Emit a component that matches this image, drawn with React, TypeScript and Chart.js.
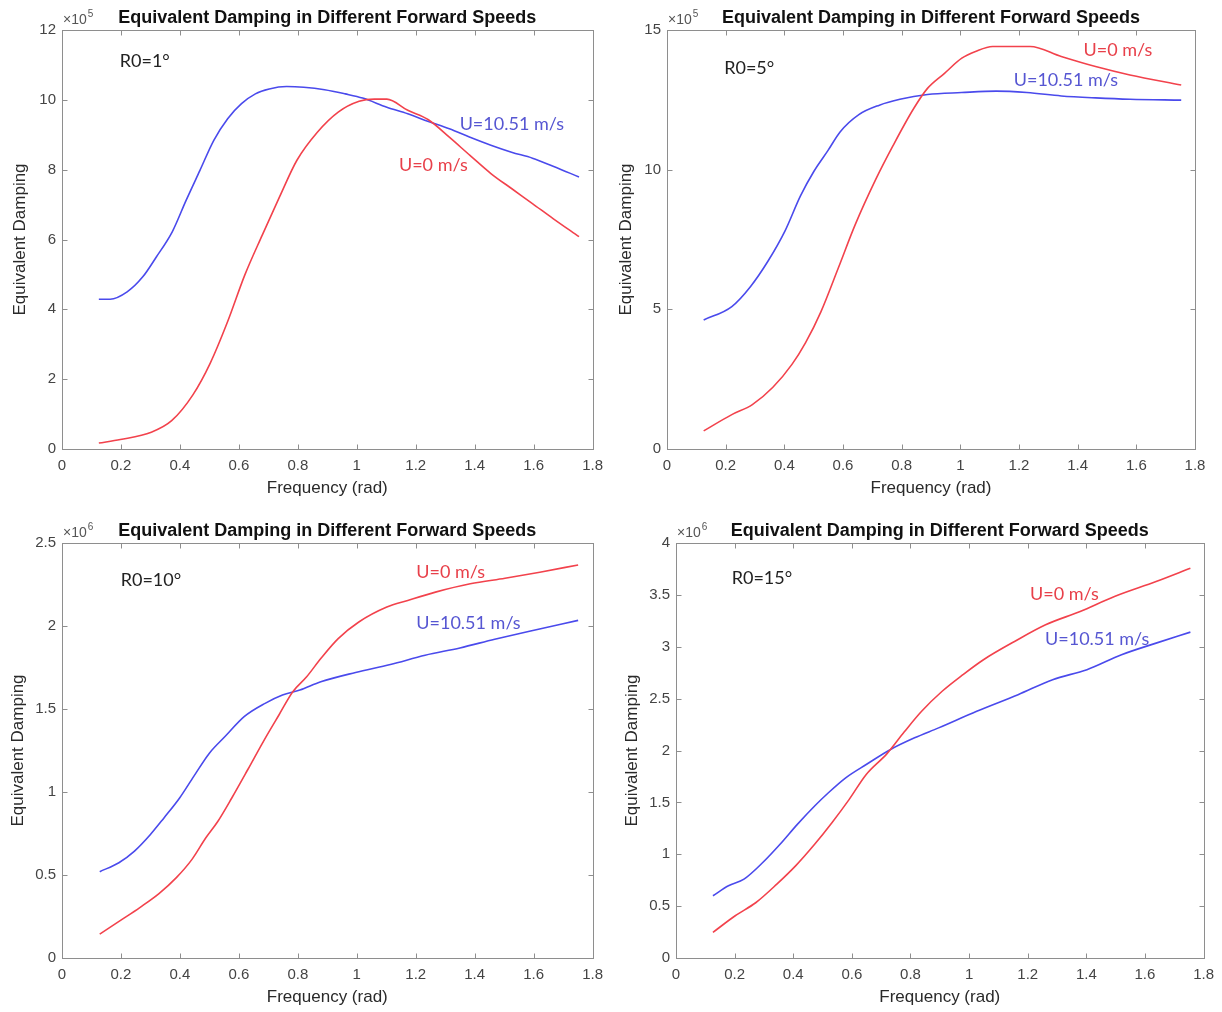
import React, { useEffect, useRef } from 'react';
import { Chart, registerables } from 'chart.js';

Chart.register(...registerables);

// ---------------- text ----------------
const TITLE = 'Equivalent Damping in Different Forward Speeds';
const X_LABEL = 'Frequency (rad)';
const Y_LABEL = 'Equivalent Damping';
const LABEL_U0 = 'U=0 m/s';
const LABEL_U1051 = 'U=10.51 m/s';

// ---------------- axis ticks ----------------
const X_MIN = 0;
const X_MAX = 1.8;
const X_STEP = 0.2;

// ---------------- R0 = 1 deg  (values x10^5) ----------------
const R1_EXP = 5;
const R1_Y_MAX = 12;
const R1_Y_STEP = 2;
const R1_U0_FREQ = [0.125, 0.198, 0.303, 0.372, 0.444, 0.503, 0.562, 0.62, 0.679, 0.738, 0.797, 0.867, 0.937, 1.008, 1.06, 1.102, 1.173, 1.243, 1.314, 1.384, 1.455, 1.525, 1.596, 1.666, 1.754];
const R1_U0_VAL = [0.17, 0.27, 0.48, 0.81, 1.55, 2.46, 3.65, 4.98, 6.12, 7.22, 8.27, 9.08, 9.65, 9.96, 10.02, 10.02, 9.7, 9.43, 8.93, 8.41, 7.89, 7.46, 7.03, 6.6, 6.08];
const R1_U10_FREQ = [0.125, 0.163, 0.221, 0.274, 0.32, 0.374, 0.421, 0.468, 0.515, 0.562, 0.609, 0.656, 0.703, 0.762, 0.82, 0.891, 0.961, 1.02, 1.102, 1.173, 1.243, 1.314, 1.384, 1.455, 1.525, 1.596, 1.666, 1.754];
const R1_U10_VAL = [4.29, 4.29, 4.5, 4.93, 5.5, 6.22, 7.12, 7.98, 8.84, 9.46, 9.89, 10.17, 10.31, 10.38, 10.36, 10.29, 10.17, 10.05, 9.79, 9.6, 9.38, 9.17, 8.93, 8.7, 8.5, 8.33, 8.1, 7.79];

// ---------------- R0 = 5 deg  (values x10^5) ----------------
const R5_EXP = 5;
const R5_Y_MAX = 15;
const R5_Y_STEP = 5;
const R5_U0_FREQ = [0.125, 0.221, 0.291, 0.361, 0.426, 0.472, 0.525, 0.584, 0.642, 0.712, 0.771, 0.841, 0.888, 0.946, 1.005, 1.052, 1.11, 1.238, 1.344, 1.461, 1.578, 1.753];
const R5_U0_VAL = [0.65, 1.23, 1.59, 2.21, 3.03, 3.8, 4.92, 6.48, 8.04, 9.66, 10.87, 12.19, 12.91, 13.45, 13.99, 14.23, 14.41, 14.41, 14.05, 13.69, 13.39, 13.03];
const R5_U10_FREQ = [0.125, 0.221, 0.285, 0.344, 0.402, 0.455, 0.502, 0.549, 0.59, 0.654, 0.724, 0.794, 0.888, 1.004, 1.122, 1.227, 1.344, 1.461, 1.578, 1.753];
const R5_U10_VAL = [4.62, 5.1, 5.82, 6.72, 7.8, 9.06, 9.96, 10.69, 11.35, 11.97, 12.31, 12.52, 12.69, 12.76, 12.81, 12.76, 12.64, 12.57, 12.52, 12.49];

// ---------------- R0 = 10 deg  (values x10^6) ----------------
const R10_EXP = 6;
const R10_Y_MAX = 2.5;
const R10_Y_STEP = 0.5;
const R10_U0_FREQ = [0.128, 0.205, 0.264, 0.329, 0.388, 0.441, 0.488, 0.529, 0.576, 0.63, 0.683, 0.736, 0.783, 0.83, 0.878, 0.937, 1.007, 1.102, 1.173, 1.267, 1.385, 1.503, 1.621, 1.751];
const R10_U0_VAL = [0.144, 0.234, 0.304, 0.388, 0.484, 0.594, 0.724, 0.824, 0.964, 1.134, 1.304, 1.464, 1.604, 1.694, 1.804, 1.924, 2.024, 2.114, 2.154, 2.204, 2.254, 2.288, 2.324, 2.368];
const R10_U10_FREQ = [0.128, 0.193, 0.246, 0.3, 0.346, 0.399, 0.447, 0.5, 0.553, 0.618, 0.689, 0.748, 0.807, 0.878, 0.996, 1.114, 1.232, 1.35, 1.468, 1.586, 1.751];
const R10_U10_VAL = [0.52, 0.574, 0.644, 0.744, 0.844, 0.964, 1.094, 1.234, 1.334, 1.454, 1.534, 1.584, 1.614, 1.664, 1.72, 1.768, 1.824, 1.868, 1.92, 1.968, 2.034];

// ---------------- R0 = 15 deg  (values x10^6) ----------------
const R15_EXP = 6;
const R15_Y_MAX = 4;
const R15_Y_STEP = 0.5;
const R15_U0_FREQ = [0.126, 0.202, 0.273, 0.344, 0.408, 0.473, 0.532, 0.591, 0.649, 0.72, 0.779, 0.838, 0.908, 0.979, 1.049, 1.155, 1.261, 1.379, 1.496, 1.638, 1.755];
const R15_U0_VAL = [0.247, 0.407, 0.535, 0.712, 0.888, 1.096, 1.304, 1.529, 1.769, 1.97, 2.18, 2.378, 2.571, 2.731, 2.875, 3.051, 3.212, 3.34, 3.484, 3.628, 3.756];
const R15_U10_FREQ = [0.126, 0.179, 0.232, 0.296, 0.355, 0.414, 0.473, 0.52, 0.579, 0.649, 0.732, 0.814, 0.896, 1.026, 1.167, 1.285, 1.402, 1.52, 1.638, 1.755];
const R15_U10_VAL = [0.6, 0.696, 0.76, 0.92, 1.096, 1.288, 1.465, 1.593, 1.737, 1.865, 2.01, 2.122, 2.218, 2.378, 2.538, 2.683, 2.779, 2.923, 3.035, 3.141];

// ---------------- text annotations (data coordinates) ----------------
const R1_NOTES = [
  { text: 'R0=1°', f: 0.196, v: 11.12, kind: 'k' },
  { text: LABEL_U1051, f: 1.349, v: 9.31, kind: 'b' },
  { text: LABEL_U0, f: 1.143, v: 8.12, kind: 'r' },
];
const R5_NOTES = [
  { text: 'R0=5°', f: 0.195, v: 13.65, kind: 'k' },
  { text: LABEL_U0, f: 1.42, v: 14.29, kind: 'r' },
  { text: LABEL_U1051, f: 1.182, v: 13.21, kind: 'b' },
];
const R10_NOTES = [
  { text: 'R0=10°', f: 0.199, v: 2.274, kind: 'k' },
  { text: LABEL_U0, f: 1.202, v: 2.324, kind: 'r' },
  { text: LABEL_U1051, f: 1.202, v: 2.014, kind: 'b' },
];
const R15_NOTES = [
  { text: 'R0=15°', f: 0.19, v: 3.66, kind: 'k' },
  { text: LABEL_U0, f: 1.208, v: 3.506, kind: 'r' },
  { text: LABEL_U1051, f: 1.259, v: 3.074, kind: 'b' },
];

// ---------------- styles ----------------
const CANVAS_W = 611;
const CANVAS_H = 506;
const RED = '#f2424c';
const BLUE = '#4a4aec';
const RED_TEXT = '#e8404a';
const BLUE_TEXT = '#5656d2';
const AXIS_COLOR = '#8e8e8e';
const TICK_TEXT = '#444444';
const LABEL_TEXT = '#2a2a2a';
const SANS = '"Liberation Sans", Arial, Helvetica, sans-serif';
const NOTE_FONT = 'Lato, "Open Sans", sans-serif';

const zip = (xs: number[], ys: number[]) => xs.map((x, i) => ({ x, y: ys[i] }));

const PANELS = [
  {
    left: 0, top: 0, area: { left: 62, right: 598, top: 30, bottom: 449 }, yTitlePad: 10, xTitlePad: 7,
    exp: R1_EXP, yMax: R1_Y_MAX, yStep: R1_Y_STEP,
    red: zip(R1_U0_FREQ, R1_U0_VAL), blue: zip(R1_U10_FREQ, R1_U10_VAL), notes: R1_NOTES,
  },
  {
    left: 611, top: 0, area: { left: 56, right: 584, top: 30, bottom: 449 }, yTitlePad: 5, xTitlePad: 7,
    exp: R5_EXP, yMax: R5_Y_MAX, yStep: R5_Y_STEP,
    red: zip(R5_U0_FREQ, R5_U0_VAL), blue: zip(R5_U10_FREQ, R5_U10_VAL), notes: R5_NOTES,
  },
  {
    left: 0, top: 506, area: { left: 62, right: 598, top: 37, bottom: 452 }, yTitlePad: 8, xTitlePad: 4,
    exp: R10_EXP, yMax: R10_Y_MAX, yStep: R10_Y_STEP,
    red: zip(R10_U0_FREQ, R10_U0_VAL), blue: zip(R10_U10_FREQ, R10_U10_VAL), notes: R10_NOTES,
  },
  {
    left: 611, top: 506, area: { left: 65, right: 593, top: 37, bottom: 452 }, yTitlePad: 11, xTitlePad: 4,
    exp: R15_EXP, yMax: R15_Y_MAX, yStep: R15_Y_STEP,
    red: zip(R15_U0_FREQ, R15_U0_VAL), blue: zip(R15_U10_FREQ, R15_U10_VAL), notes: R15_NOTES,
  },
];

const framePlugin = {
  id: 'matlabFrame',
  beforeDatasetsDraw(chart: any) {
    const { ctx, chartArea } = chart;
    const { left, right, top, bottom } = chartArea;
    const xs = chart.scales.x;
    const ys = chart.scales.y;
    ctx.save();
    ctx.strokeStyle = AXIS_COLOR;
    ctx.lineWidth = 1;
    const L = Math.round(left) + 0.5, R = Math.round(right) + 0.5, T = Math.round(top) + 0.5, B = Math.round(bottom) + 0.5;
    ctx.strokeRect(L, T, R - L, B - T);
    const tl = 5;
    ctx.beginPath();
    xs.ticks.forEach((t: any) => {
      const px = Math.round(xs.getPixelForValue(t.value)) + 0.5;
      ctx.moveTo(px, B); ctx.lineTo(px, B - tl);
      ctx.moveTo(px, T); ctx.lineTo(px, T + tl);
    });
    ys.ticks.forEach((t: any) => {
      const py = Math.round(ys.getPixelForValue(t.value)) + 0.5;
      ctx.moveTo(L, py); ctx.lineTo(L + tl, py);
      ctx.moveTo(R, py); ctx.lineTo(R - tl, py);
    });
    ctx.stroke();
    ctx.restore();
  },
  afterDraw(chart: any, _args: any, opts: any) {
    const { ctx, chartArea } = chart;
    const { left, right, top } = chartArea;
    const xs = chart.scales.x;
    const ys = chart.scales.y;
    ctx.save();
    // title
    ctx.fillStyle = '#111';
    ctx.font = `bold 18px ${SANS}`;
    ctx.textAlign = 'center';
    ctx.textBaseline = 'alphabetic';
    ctx.fillText(TITLE, (left + right) / 2, top - 7);
    // exponent
    ctx.fillStyle = '#555';
    ctx.textAlign = 'left';
    ctx.font = `14px ${SANS}`;
    ctx.fillText('×10', left + 1, top - 6);
    const w = ctx.measureText('×10').width;
    ctx.font = `10px ${SANS}`;
    ctx.fillText(String(opts.exp), left + 2 + w, top - 13);
    // notes
    ctx.font = `18px ${NOTE_FONT}`;
    ctx.textBaseline = 'middle';
    (opts.notes || []).forEach((n: any) => {
      ctx.fillStyle = n.kind === 'r' ? RED_TEXT : n.kind === 'b' ? BLUE_TEXT : '#222';
      ctx.fillText(n.text, xs.getPixelForValue(n.f), ys.getPixelForValue(n.v));
    });
    ctx.restore();
  },
};

function fmt(v: number) {
  return String(Number(v.toFixed(2)));
}

function Panel({ cfg }: { cfg: any }) {
  const ref = useRef<HTMLCanvasElement>(null);
  useEffect(() => {
    const canvas = ref.current!;
    const lineStyle = { showLine: true, borderWidth: 1.6, pointRadius: 0, cubicInterpolationMode: 'monotone' };
    const chart = new Chart(canvas, {
      type: 'scatter',
      data: {
        datasets: [
          { data: cfg.red, borderColor: RED, backgroundColor: RED, ...lineStyle },
          { data: cfg.blue, borderColor: BLUE, backgroundColor: BLUE, ...lineStyle },
        ],
      },
      options: {
        animation: false,
        responsive: false,
        devicePixelRatio: 1,
        events: [],
        layout: { padding: { left: 0, top: cfg.area.top, right: CANVAS_W - cfg.area.right, bottom: 0 } },
        plugins: {
          legend: { display: false },
          tooltip: { enabled: false },
          title: { display: false },
          matlabFrame: { exp: cfg.exp, notes: cfg.notes },
        } as any,
        scales: {
          x: {
            type: 'linear',
            min: X_MIN,
            max: X_MAX,
            grid: { display: false, drawTicks: false },
            border: { display: false },
            ticks: {
              stepSize: X_STEP, autoSkip: false, maxRotation: 0, padding: 8,
              color: TICK_TEXT, font: { family: SANS, size: 15 },
              callback: (v: any) => fmt(Number(v)),
            },
            title: { display: true, text: X_LABEL, color: LABEL_TEXT, font: { family: SANS, size: 17 }, padding: { top: 0, bottom: cfg.xTitlePad } },
            afterFit: (s: any) => { s.height = CANVAS_H - cfg.area.bottom; },
          },
          y: {
            type: 'linear',
            min: 0,
            max: cfg.yMax,
            grid: { display: false, drawTicks: false },
            border: { display: false },
            ticks: {
              stepSize: cfg.yStep, autoSkip: false, padding: 6,
              color: TICK_TEXT, font: { family: SANS, size: 15 },
              callback: (v: any) => fmt(Number(v)),
            },
            title: { display: true, text: Y_LABEL, color: LABEL_TEXT, font: { family: SANS, size: 17 }, padding: { top: cfg.yTitlePad, bottom: 0 } },
            afterFit: (s: any) => { s.width = cfg.area.left; },
          },
        },
      } as any,
      plugins: [framePlugin as any],
    });
    return () => chart.destroy();
  }, []);
  return (
    <canvas
      ref={ref}
      width={CANVAS_W}
      height={CANVAS_H}
      style={{ position: 'absolute', left: cfg.left, top: cfg.top, width: CANVAS_W, height: CANVAS_H }}
    />
  );
}

export default function App() {
  return (
    <div style={{ position: 'absolute', left: 0, top: 0, width: 1222, height: 1012, background: '#fff', overflow: 'hidden' }}>
      {PANELS.map((p, i) => (
        <Panel key={i} cfg={p} />
      ))}
    </div>
  );
}
